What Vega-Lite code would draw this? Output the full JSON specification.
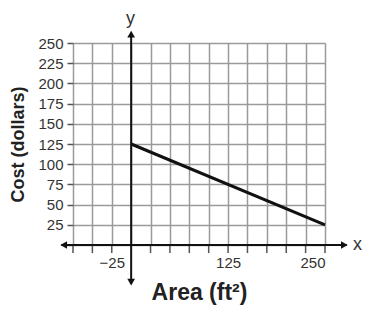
{
  "$schema": "https://vega.github.io/schema/vega-lite/v6.json",
  "autosize": "none",
  "width": 252,
  "height": 202,
  "padding": {"left": 73, "top": 43, "right": 45, "bottom": 67},
  "background": "white",
  "config": {
    "view": {"stroke": null},
    "font": "Liberation Sans"
  },
  "encoding": {
    "x": {
      "field": "x", "type": "quantitative",
      "scale": {"domain": [-75, 250], "nice": false, "zero": false},
      "axis": {
        "values": [-75, -50, -25, 0, 25, 50, 75, 100, 125, 150, 175, 200, 225, 250],
        "labelExpr": "datum.value == -25 || datum.value == 125 || datum.value == 250 ? datum.label : ''",
        "grid": true, "gridColor": "#9a9a9a", "gridWidth": 1.5,
        "domain": false, "ticks": false,
        "labelPadding": 10, "labelFontSize": 15, "labelColor": "#333",
        "title": "Area (ft²)", "titleFontSize": 23, "titleFontWeight": "bold", "titleColor": "#222",
        "titlePadding": 11
      }
    },
    "y": {
      "field": "y", "type": "quantitative",
      "scale": {"domain": [0, 250], "nice": false},
      "axis": {
        "values": [0, 25, 50, 75, 100, 125, 150, 175, 200, 225, 250],
        "labelExpr": "datum.value == 0 ? '' : datum.label",
        "grid": true, "gridColor": "#9a9a9a", "gridWidth": 1.5,
        "domain": false, "ticks": true, "tickSize": 6, "tickColor": "#555", "tickWidth": 1.5,
        "labelPadding": 4, "labelFontSize": 15, "labelColor": "#333",
        "title": "Cost (dollars)", "titleFontSize": 18, "titleFontWeight": "bold", "titleColor": "#222",
        "titlePadding": 10
      }
    }
  },
  "layer": [
    {
      "data": {"values": [{"x": -75, "y": 0, "y2": -10}, {"x": -50, "y": 0, "y2": -10}, {"x": -25, "y": 0, "y2": -10}, {"x": 25, "y": 0, "y2": -10}, {"x": 50, "y": 0, "y2": -10}, {"x": 75, "y": 0, "y2": -10}, {"x": 100, "y": 0, "y2": -10}, {"x": 125, "y": 0, "y2": -10}, {"x": 150, "y": 0, "y2": -10}, {"x": 175, "y": 0, "y2": -10}, {"x": 200, "y": 0, "y2": -10}, {"x": 225, "y": 0, "y2": -10}, {"x": 250, "y": 0, "y2": -10}]},
      "mark": {"type": "rule", "color": "#555", "strokeWidth": 1.5},
      "encoding": {"y2": {"field": "y2"}}
    },
    {
      "data": {"values": [{"x": -90, "x2": 278, "y": 0}]},
      "mark": {"type": "rule", "color": "#111", "strokeWidth": 2},
      "encoding": {"x2": {"field": "x2"}}
    },
    {
      "data": {"values": [{"x": 0, "y": -48, "y2": 262}]},
      "mark": {"type": "rule", "color": "#111", "strokeWidth": 2},
      "encoding": {"y2": {"field": "y2"}}
    },
    {
      "data": {"values": [{"x": 275, "y": 0}]},
      "mark": {"type": "point", "shape": "triangle-right", "filled": true, "color": "#111", "size": 60, "opacity": 1}
    },
    {
      "data": {"values": [{"x": -87, "y": 0}]},
      "mark": {"type": "point", "shape": "triangle-left", "filled": true, "color": "#111", "size": 60, "opacity": 1}
    },
    {
      "data": {"values": [{"x": 0, "y": 261}]},
      "mark": {"type": "point", "shape": "triangle-up", "filled": true, "color": "#111", "size": 60, "opacity": 1}
    },
    {
      "data": {"values": [{"x": 0, "y": -46}]},
      "mark": {"type": "point", "shape": "triangle-down", "filled": true, "color": "#111", "size": 60, "opacity": 1}
    },
    {
      "data": {"values": [{"x": 0, "y": 125}, {"x": 250, "y": 25}]},
      "mark": {"type": "line", "color": "#111", "strokeWidth": 3}
    },
    {
      "data": {"values": [{"x": 292, "y": 0, "t": "x"}, {"x": -1, "y": 280, "t": "y"}]},
      "mark": {"type": "text", "fontSize": 18, "color": "#333", "baseline": "middle", "align": "center"},
      "encoding": {"text": {"field": "t"}}
    }
  ]
}
